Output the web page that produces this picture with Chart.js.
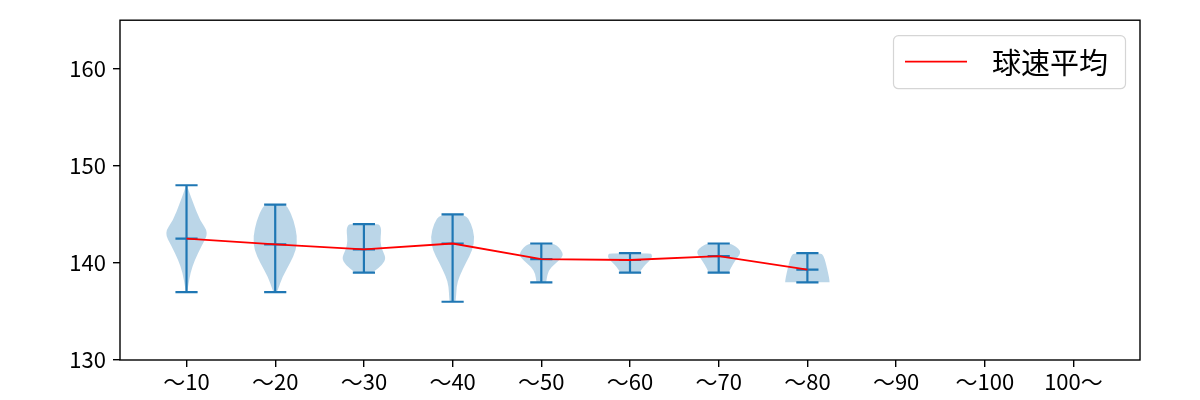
<!DOCTYPE html>
<html>
<head>
<meta charset="utf-8">
<script src="https://cdn.jsdelivr.net/npm/chart.js@4.4.1/dist/chart.umd.min.js"></script>
<style>
  html, body { margin: 0; padding: 0; background: #fff; }
  #wrap { width: 1200px; height: 400px; }
</style>
</head>
<body>
<div id="wrap"><canvas id="speed" width="1200" height="400"></canvas></div>
<script>
const labels = ["～10", "～20", "～30", "～40", "～50", "～60", "～70", "～80", "～90", "～100", "100～"];
const speedMean = [142.5, 141.9, 141.4, 142.0, 140.4, 140.3, 140.7, 139.3];
const speedMin = [137, 137, 139, 136, 138, 139, 139, 138];
const speedMax = [148, 146, 144, 145, 142, 141, 142, 141];

// violin outlines: [speed, relative half width]
const violinShapes = [
    [[137, 0.03], [137.6, 0.07], [139, 0.18], [140.3, 0.37], [141.7, 0.67], [143.1, 1.0], [144.4, 0.6], [146.2, 0.3], [147.3, 0.12], [148, 0.02]],
    [[137, 0.07], [137.2, 0.12], [138.6, 0.33], [140, 0.68], [141.3, 0.94], [142.7, 1.0], [144.4, 0.83], [145.6, 0.6], [146, 0.45]],
    [[139, 0.38], [139.1, 0.45], [139.8, 0.83], [140.5, 1.0], [141.3, 0.83], [142.2, 0.73], [143.4, 0.79], [143.9, 0.72], [144, 0.6]],
    [[136, 0.12], [136.2, 0.15], [137.6, 0.18], [138.6, 0.3], [140, 0.6], [141.3, 0.9], [142.7, 1.0], [144.1, 0.83], [145, 0.58]],
    [[138, 0.22], [138.9, 0.27], [139.6, 0.45], [140.3, 0.83], [140.8, 1.0], [141.3, 0.9], [141.8, 0.7], [142, 0.5]],
    [[139, 0.42], [139.4, 0.55], [139.8, 0.68], [140.5, 1.0], [140.9, 0.98], [141, 0.9]],
    [[139, 0.45], [139.4, 0.53], [140.3, 0.76], [141.0, 1.0], [141.5, 0.9], [141.85, 0.65], [142, 0.5]],
    [[138, 1.0], [138.2, 1.0], [138.9, 0.94], [140, 0.83], [140.8, 0.72], [141, 0.6]]
];

const blue = "#1f77b4";
const tickFont = { family: "'Noto Sans CJK JP'", size: 22 };

const violinPlugin = {
    id: "violins",
    beforeDatasetsDraw(chart) {
        const ctx = chart.ctx;
        const xs = chart.scales.x;
        const ys = chart.scales.y;
        const area = chart.chartArea;
        ctx.save();
        ctx.beginPath();
        ctx.rect(area.left, area.top, area.width, area.height);
        ctx.clip();

        violinShapes.forEach((shape, i) => {
            const pos = i + 1;
            const pts = [];
            shape.forEach(p => pts.push([pos + p[1] * 0.25, p[0]]));
            for (let k = shape.length - 1; k >= 0; k--) {
                pts.push([pos - shape[k][1] * 0.25, shape[k][0]]);
            }
            const px = pts.map(p => [xs.getPixelForValue(p[0]), ys.getPixelForValue(p[1])]);
            ctx.beginPath();
            ctx.moveTo(px[0][0], px[0][1]);
            for (let k = 1; k < px.length - 1; k++) {
                const mx = (px[k][0] + px[k + 1][0]) / 2;
                const my = (px[k][1] + px[k + 1][1]) / 2;
                ctx.quadraticCurveTo(px[k][0], px[k][1], mx, my);
            }
            ctx.lineTo(px[px.length - 1][0], px[px.length - 1][1]);
            ctx.closePath();
            ctx.fillStyle = "rgba(31,119,180,0.3)";
            ctx.fill();
        });

        ctx.strokeStyle = blue;
        ctx.lineWidth = 2.2;
        speedMin.forEach((lo, i) => {
            const pos = i + 1;
            const x = xs.getPixelForValue(pos);
            const xl = xs.getPixelForValue(pos - 0.125);
            const xr = xs.getPixelForValue(pos + 0.125);
            const yLo = ys.getPixelForValue(lo);
            const yHi = ys.getPixelForValue(speedMax[i]);
            const yMean = ys.getPixelForValue(speedMean[i]);
            ctx.beginPath();
            ctx.moveTo(x, yLo); ctx.lineTo(x, yHi);
            ctx.moveTo(xl, yLo); ctx.lineTo(xr, yLo);
            ctx.moveTo(xl, yHi); ctx.lineTo(xr, yHi);
            ctx.moveTo(xl, yMean); ctx.lineTo(xr, yMean);
            ctx.stroke();
        });
        ctx.restore();
    },
    afterDraw(chart) {
        const ctx = chart.ctx;
        const area = chart.chartArea;
        ctx.save();
        // axes box
        ctx.strokeStyle = "#000";
        ctx.lineWidth = 1.4;
        ctx.strokeRect(area.left, area.top, area.width, area.height);

        // legend box
        const bw = 232, bh = 53;
        const bx = area.right - 15 - bw;
        const by = area.top + 15;
        ctx.beginPath();
        ctx.roundRect(bx + 0.5, by + 0.5, bw, bh, 5);
        ctx.fillStyle = "rgba(255,255,255,0.8)";
        ctx.fill();
        ctx.strokeStyle = "#d5d5d5";
        ctx.lineWidth = 1.2;
        ctx.stroke();
        const ly = by + bh / 2;
        ctx.beginPath();
        ctx.moveTo(bx + 12, ly);
        ctx.lineTo(bx + 74, ly);
        ctx.strokeStyle = "red";
        ctx.lineWidth = 1.8;
        ctx.stroke();
        ctx.fillStyle = "#000";
        ctx.font = "29px 'Noto Sans CJK JP'";
        ctx.textBaseline = "middle";
        ctx.textAlign = "left";
        ctx.fillText(chart.data.datasets[0].label, bx + 99, ly + 1);
        ctx.restore();
    }
};

const speedCtx = document.getElementById("speed").getContext("2d");

const speedConfig = {
    type: "line",
    data: {
        datasets: [{
            label: "球速平均",
            data: speedMean.map((v, i) => ({ x: i + 1, y: v })),
            borderColor: "red",
            borderWidth: 1.8,
            pointRadius: 0,
            fill: false,
            tension: 0
        }]
    },
    options: {
        responsive: false,
        animation: false,
        layout: {
            padding: { left: 0, right: 60, top: 20, bottom: 0 }
        },
        plugins: {
            legend: { display: false },
            tooltip: { enabled: false }
        },
        scales: {
            x: {
                type: "linear",
                min: 0.25,
                max: 11.75,
                afterBuildTicks(scale) {
                    scale.ticks = labels.map((l, i) => ({ value: i + 1 }));
                },
                afterFit(scale) { scale.height = 40; },
                ticks: {
                    autoSkip: false,
                    maxRotation: 0,
                    color: "#000",
                    padding: 1,
                    font: tickFont,
                    callback: (v) => labels[Math.round(v) - 1]
                },
                grid: {
                    drawOnChartArea: false,
                    drawTicks: true,
                    tickLength: 7,
                    lineWidth: 1.4,
                    color: "#000"
                },
                border: { display: false }
            },
            y: {
                min: 130,
                max: 165,
                afterBuildTicks(scale) {
                    scale.ticks = [130, 140, 150, 160].map(v => ({ value: v }));
                },
                afterFit(scale) { scale.width = 120; },
                ticks: {
                    color: "#000",
                    padding: 7,
                    font: tickFont
                },
                grid: {
                    drawOnChartArea: false,
                    drawTicks: true,
                    tickLength: 7,
                    lineWidth: 1.4,
                    color: "#000"
                },
                border: { display: false }
            }
        }
    },
    plugins: [violinPlugin]
};

const speedChart = new Chart(speedCtx, speedConfig);
</script>
</body>
</html>
